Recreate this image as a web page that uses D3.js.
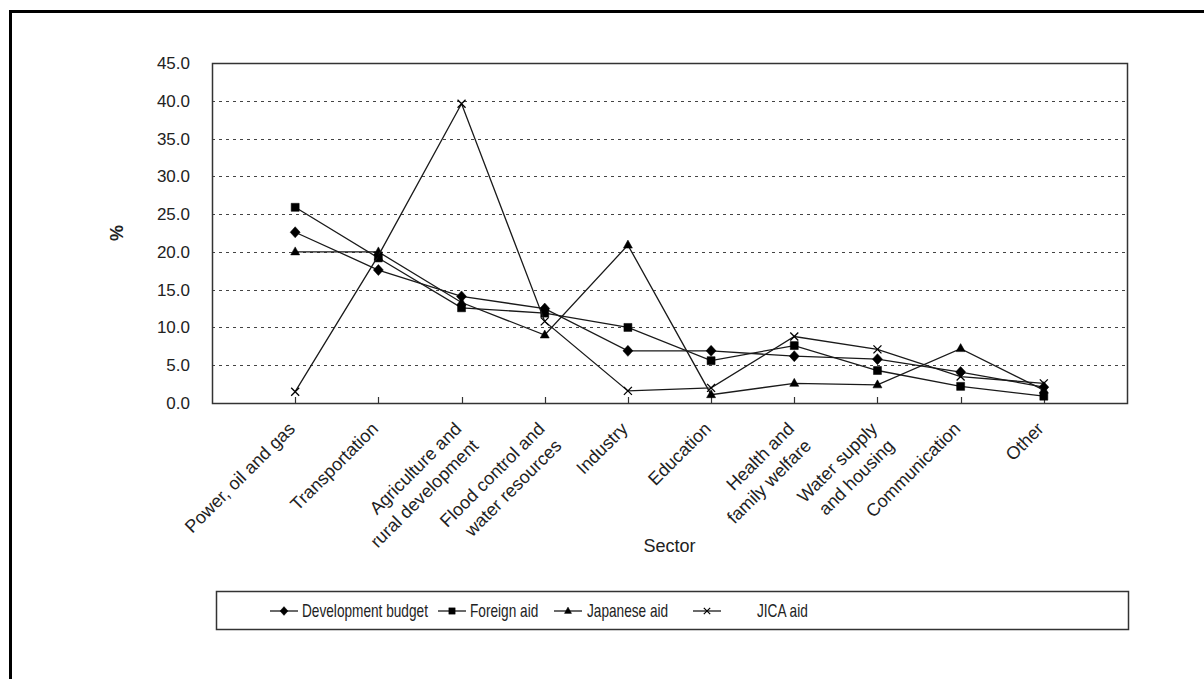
<!DOCTYPE html>
<html>
<head>
<meta charset="utf-8">
<script src="https://cdn.jsdelivr.net/npm/d3@7"></script>
<style>
	body { margin: 0; background: #fff; }
	svg { display: block; font-family: "Liberation Sans", Arial, sans-serif; }
</style>
</head>
<body>
<svg id="sectorChart"></svg>
<script>
// sectors (line breaks as in the original labels)
var sectors = [
	"Power, oil and gas",
	"Transportation",
	"Agriculture and\nrural development",
	"Flood control and\nwater resources",
	"Industry",
	"Education",
	"Health and\nfamily welfare",
	"Water supply\nand housing",
	"Communication",
	"Other"
];
var seriesNames = ["Development budget", "Foreign aid", "Japanese aid", "JICA aid"];
var developmentBudget = [22.6, 17.6, 14.1, 12.5, 6.9, 6.9, 6.2, 5.8, 4.1, 2.1];
var foreignAid        = [25.9, 19.2, 12.6, 11.9, 10.0, 5.6, 7.6, 4.3, 2.2, 0.9];
var japaneseAid       = [20.0, 20.0, 13.3, 9.0, 20.9, 1.1, 2.6, 2.4, 7.2, 1.7];
var jicaAid           = [1.5, 19.5, 39.6, 10.8, 1.6, 2.0, 8.8, 7.1, 3.5, 2.6];
var yTicks = [0, 5, 10, 15, 20, 25, 30, 35, 40, 45];
var yLabel = "%";
var xLabel = "Sector";

class SectorShareChart {
	constructor(width, height) {
		this.width = width;
		this.height = height;
		this.plot = { left: 212, right: 1127, top: 63, bottom: 403 };

		this.svg = d3.select("#sectorChart")
			.attr("width", this.width)
			.attr("height", this.height);

		this.xScale = d3.scalePoint().domain(sectors).range([this.plot.left, this.plot.right]).padding(1);
		this.yScale = d3.scaleLinear().domain([0, 45]).range([this.plot.bottom, this.plot.top]);

		this.series = [
			{ name: seriesNames[0], values: developmentBudget, symbol: "diamond" },
			{ name: seriesNames[1], values: foreignAid, symbol: "square" },
			{ name: seriesNames[2], values: japaneseAid, symbol: "triangle" },
			{ name: seriesNames[3], values: jicaAid, symbol: "cross" }
		];

		this.drawFrame();
		this.drawAxis();
		this.drawLines();
		this.drawLegend();
	}

	drawFrame() {
		// outer chart border runs off the right and bottom of the picture
		this.svg.append("rect")
			.attr("x", 10.5).attr("y", 11.5)
			.attr("width", this.width + 20).attr("height", this.height + 20)
			.attr("fill", "none")
			.attr("stroke", "#000")
			.attr("stroke-width", 3);

		this.svg.append("g").attr("class", "grid")
			.selectAll("line")
			.data(yTicks.filter(function(d) { return d > 0 && d < 45; }))
			.enter()
			.append("line")
			.attr("x1", this.plot.left)
			.attr("x2", this.plot.right)
			.attr("y1", function(d) { return Math.round(this.yScale(d)) + 0.5; }.bind(this))
			.attr("y2", function(d) { return Math.round(this.yScale(d)) + 0.5; }.bind(this))
			.attr("stroke", "#444")
			.attr("stroke-width", 1)
			.attr("stroke-dasharray", "3,4");

		this.svg.append("rect")
			.attr("x", this.plot.left + 0.5)
			.attr("y", this.plot.top + 0.5)
			.attr("width", this.plot.right - this.plot.left)
			.attr("height", this.plot.bottom - this.plot.top)
			.attr("fill", "none")
			.attr("stroke", "#333")
			.attr("stroke-width", 1.5);
	}

	drawAxis() {
		var yAxis = d3.axisLeft(this.yScale)
			.tickValues(yTicks)
			.tickFormat(d3.format(".1f"))
			.tickSize(0)
			.tickPadding(22);
		var yAxisLine = this.svg.append("g")
			.attr("class", "yAxis")
			.attr("transform", "translate(" + this.plot.left + ",0)")
			.call(yAxis);
		yAxisLine.select(".domain").remove();
		yAxisLine.selectAll("text")
			.attr("font-size", 17)
			.attr("fill", "#222");

		// category ticks point up into the plot
		this.svg.append("g").attr("class", "xTicks")
			.selectAll("line")
			.data(sectors)
			.enter()
			.append("line")
			.attr("x1", function(d) { return Math.round(this.xScale(d)) + 0.5; }.bind(this))
			.attr("x2", function(d) { return Math.round(this.xScale(d)) + 0.5; }.bind(this))
			.attr("y1", this.plot.bottom)
			.attr("y2", this.plot.bottom - 6)
			.attr("stroke", "#333")
			.attr("stroke-width", 1.2);

		// rotated labels, lines right aligned on the tick
		var lineHeight = 24;
		this.svg.append("g").attr("class", "xLabels")
			.selectAll("g")
			.data(sectors)
			.enter()
			.append("g")
			.attr("transform", function(d) { return "translate(" + (this.xScale(d) + 1) + "," + (this.plot.bottom + 27) + ") rotate(-45)"; }.bind(this))
			.selectAll("text")
			.data(function(d) { return d.split("\n"); })
			.enter()
			.append("text")
			.attr("x", 0)
			.attr("y", function(p, i) { return i * lineHeight; })
			.attr("text-anchor", "end")
			.attr("font-size", 18)
			.attr("fill", "#222")
			.text(function(p) { return p; });

		this.svg.append("text")
			.attr("x", (this.plot.left + this.plot.right) / 2)
			.attr("y", 552)
			.attr("text-anchor", "middle")
			.attr("font-size", 18)
			.attr("fill", "#222")
			.text(xLabel);

		this.svg.append("text")
			.attr("transform", "translate(123," + ((this.plot.top + this.plot.bottom) / 2) + ") rotate(-90)")
			.attr("text-anchor", "middle")
			.attr("font-size", 18)
			.attr("font-weight", "bold")
			.attr("fill", "#222")
			.text(yLabel);
	}

	symbolPath(symbol) {
		if (symbol == "diamond") { return "M0,-5.5L5,0L0,5.5L-5,0Z"; }
		if (symbol == "square") { return "M-4,-4H4V4H-4Z"; }
		if (symbol == "triangle") { return "M0,-5L4.5,3H-4.5Z"; }
		return "M-4,-4L4,4M4,-4L-4,4";
	}

	drawLines() {
		var line = d3.line()
			.x(function(d, i) { return this.xScale(sectors[i]); }.bind(this))
			.y(function(d) { return this.yScale(d); }.bind(this));

		var seriesGroups = this.svg.append("g").attr("class", "series")
			.selectAll("g")
			.data(this.series)
			.enter()
			.append("g");

		seriesGroups.append("path")
			.attr("d", function(s) { return line(s.values); })
			.attr("fill", "none")
			.attr("stroke", "#1a1a1a")
			.attr("stroke-width", 1.3);

		var chart = this;
		seriesGroups.each(function(s) {
			d3.select(this).selectAll(".marker")
				.data(s.values)
				.enter()
				.append("path")
				.attr("class", "marker")
				.attr("transform", function(d, i) { return "translate(" + chart.xScale(sectors[i]) + "," + chart.yScale(d) + ")"; })
				.attr("d", chart.symbolPath(s.symbol))
				.attr("fill", s.symbol == "cross" ? "none" : "#000")
				.attr("stroke", "#000")
				.attr("stroke-width", s.symbol == "cross" ? 1.3 : 0.5);
		});
	}

	drawLegend() {
		var box = { x: 216, y: 591, width: 912, height: 38 };
		this.svg.append("rect")
			.attr("x", box.x + 0.5).attr("y", box.y + 0.5)
			.attr("width", box.width).attr("height", box.height)
			.attr("fill", "#fff")
			.attr("stroke", "#333")
			.attr("stroke-width", 1.5);

		var startX = [270, 438, 554, 693];
		var textX = [302, 470, 587, 757];
		var cy = box.y + box.height / 2 + 1;
		var legend = this.svg.append("g").attr("class", "legend")
			.selectAll("g")
			.data(this.series)
			.enter()
			.append("g");
		legend.append("line")
			.attr("x1", function(s, i) { return startX[i]; })
			.attr("x2", function(s, i) { return startX[i] + 28; })
			.attr("y1", cy).attr("y2", cy)
			.attr("stroke", "#1a1a1a")
			.attr("stroke-width", 1.3);
		var chart = this;
		legend.append("path")
			.attr("transform", function(s, i) { return "translate(" + (startX[i] + 14) + "," + cy + ") scale(0.8)"; })
			.attr("d", function(s) { return chart.symbolPath(s.symbol); })
			.attr("fill", function(s) { return s.symbol == "cross" ? "none" : "#000"; })
			.attr("stroke", "#000")
			.attr("stroke-width", function(s) { return s.symbol == "cross" ? 1.5 : 0.5; });
		// the legend font is a narrow face, squeeze regular sans to match
		legend.append("text")
			.attr("transform", function(s, i) { return "translate(" + textX[i] + "," + (cy + 6) + ") scale(0.78,1)"; })
			.attr("font-size", 17.5)
			.attr("fill", "#222")
			.text(function(s) { return s.name; });
	}
}

var sectorChart = new SectorShareChart(1204, 679);
</script>
</body>
</html>
